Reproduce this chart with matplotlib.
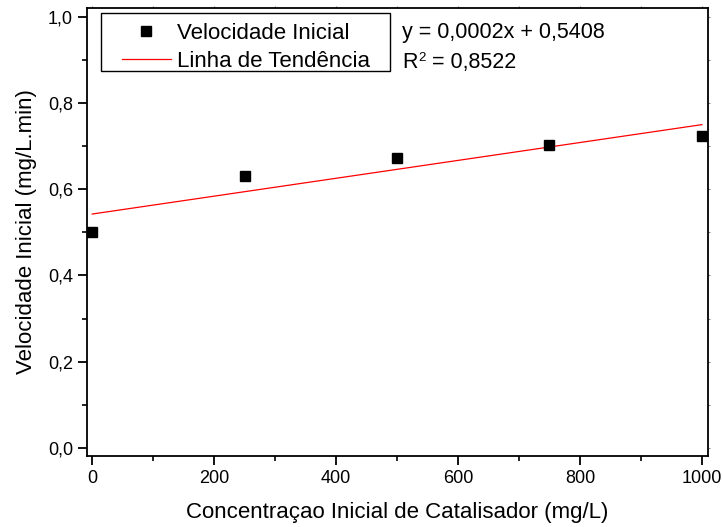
import matplotlib
matplotlib.use("Agg")
import matplotlib.pyplot as plt
import numpy as np
from matplotlib.ticker import MultipleLocator, FuncFormatter
from matplotlib.patches import Rectangle

plt.rcParams['font.family'] = ['Liberation Sans', 'DejaVu Sans']

concentracao = [0, 250, 500, 750, 1000]
velocidade = [0.500, 0.631, 0.673, 0.703, 0.723]
eq_text = "y = 0,0002x + 0,5408"
r2_base = "R"
r2_sup = "2"
r2_rest = " = 0,8522"

fig = plt.figure(figsize=(7.23, 5.27), dpi=100)
ax = fig.add_axes([87/723, 1 - 456/527, (708-87)/723, (456-8)/527])

coef = np.polyfit(concentracao, velocidade, 1)
xs = np.array([concentracao[0], concentracao[-1]])
ax.plot(xs, np.polyval(coef, xs), color='red', lw=0.9, label='Linha de Tendência')
ax.plot(concentracao, velocidade, 's', color='black', ms=7, label='Velocidade Inicial', zorder=3)

ax.set_xlim(-8.5, 1010)
ax.set_ylim(-0.0185, 1.02)
ax.xaxis.set_major_locator(MultipleLocator(200))
ax.xaxis.set_minor_locator(MultipleLocator(100))
ax.yaxis.set_major_locator(MultipleLocator(0.2))
ax.yaxis.set_minor_locator(MultipleLocator(0.1))
ax.yaxis.set_major_formatter(FuncFormatter(lambda v, p: f"{v:.1f}".replace('.', ',')))

ax.tick_params(which='major', direction='out', length=6.5, width=1.3, labelsize=13)
ax.tick_params(which='minor', direction='out', length=3.5, width=1.2)
for s in ax.spines.values():
    s.set_linewidth(1.3)

# faint ticks on the top and right edges
axt = ax.secondary_xaxis('top')
axt.xaxis.set_major_locator(MultipleLocator(200))
axt.xaxis.set_minor_locator(MultipleLocator(100))
axt.tick_params(which='both', direction='out', length=1.5, width=0.8, color='#888888', labeltop=False)
axt.spines['top'].set_visible(False)
axr = ax.secondary_yaxis('right')
axr.yaxis.set_major_locator(MultipleLocator(0.2))
axr.yaxis.set_minor_locator(MultipleLocator(0.1))
axr.tick_params(which='both', direction='out', length=1.5, width=0.8, color='#888888', labelright=False)
axr.spines['right'].set_visible(False)

ax.set_xlabel("Concentraçao Inicial de Catalisador (mg/L)", fontsize=16, labelpad=11)
ax.set_ylabel("Velocidade Inicial (mg/L.min)", fontsize=16, labelpad=8)

h, l = ax.get_legend_handles_labels()
leg = ax.legend([h[1], h[0]], [l[1], l[0]], loc='upper left', bbox_to_anchor=(0.0397, 0.989),
                fontsize=16, frameon=False,
                borderpad=0.45, labelspacing=0.3, handlelength=2.2, handletextpad=0.3,
                borderaxespad=0)
ax.add_patch(Rectangle((0.0225, 0.859), 0.488 - 0.0225, 0.989 - 0.859, transform=ax.transAxes,
                       fill=False, edgecolor='black', lw=1.0, zorder=5))

ax.text(0.507, 0.945, eq_text, transform=ax.transAxes, fontsize=15.5, va='center')
t1 = ax.text(0.507, 0.878, r2_base, transform=ax.transAxes, fontsize=15.5, va='center')
fig.canvas.draw()
ax.annotate(r2_sup, xycoords=t1, xy=(1.0, 1.0), va='top', ha='left', fontsize=9.5,
            xytext=(0.5, 0), textcoords='offset points')
ax.annotate(r2_rest, xycoords=t1, xy=(1.0, 0.5), va='center', ha='left', fontsize=15.5,
            xytext=(6, 0), textcoords='offset points')

fig.savefig("out.png", dpi=100)
